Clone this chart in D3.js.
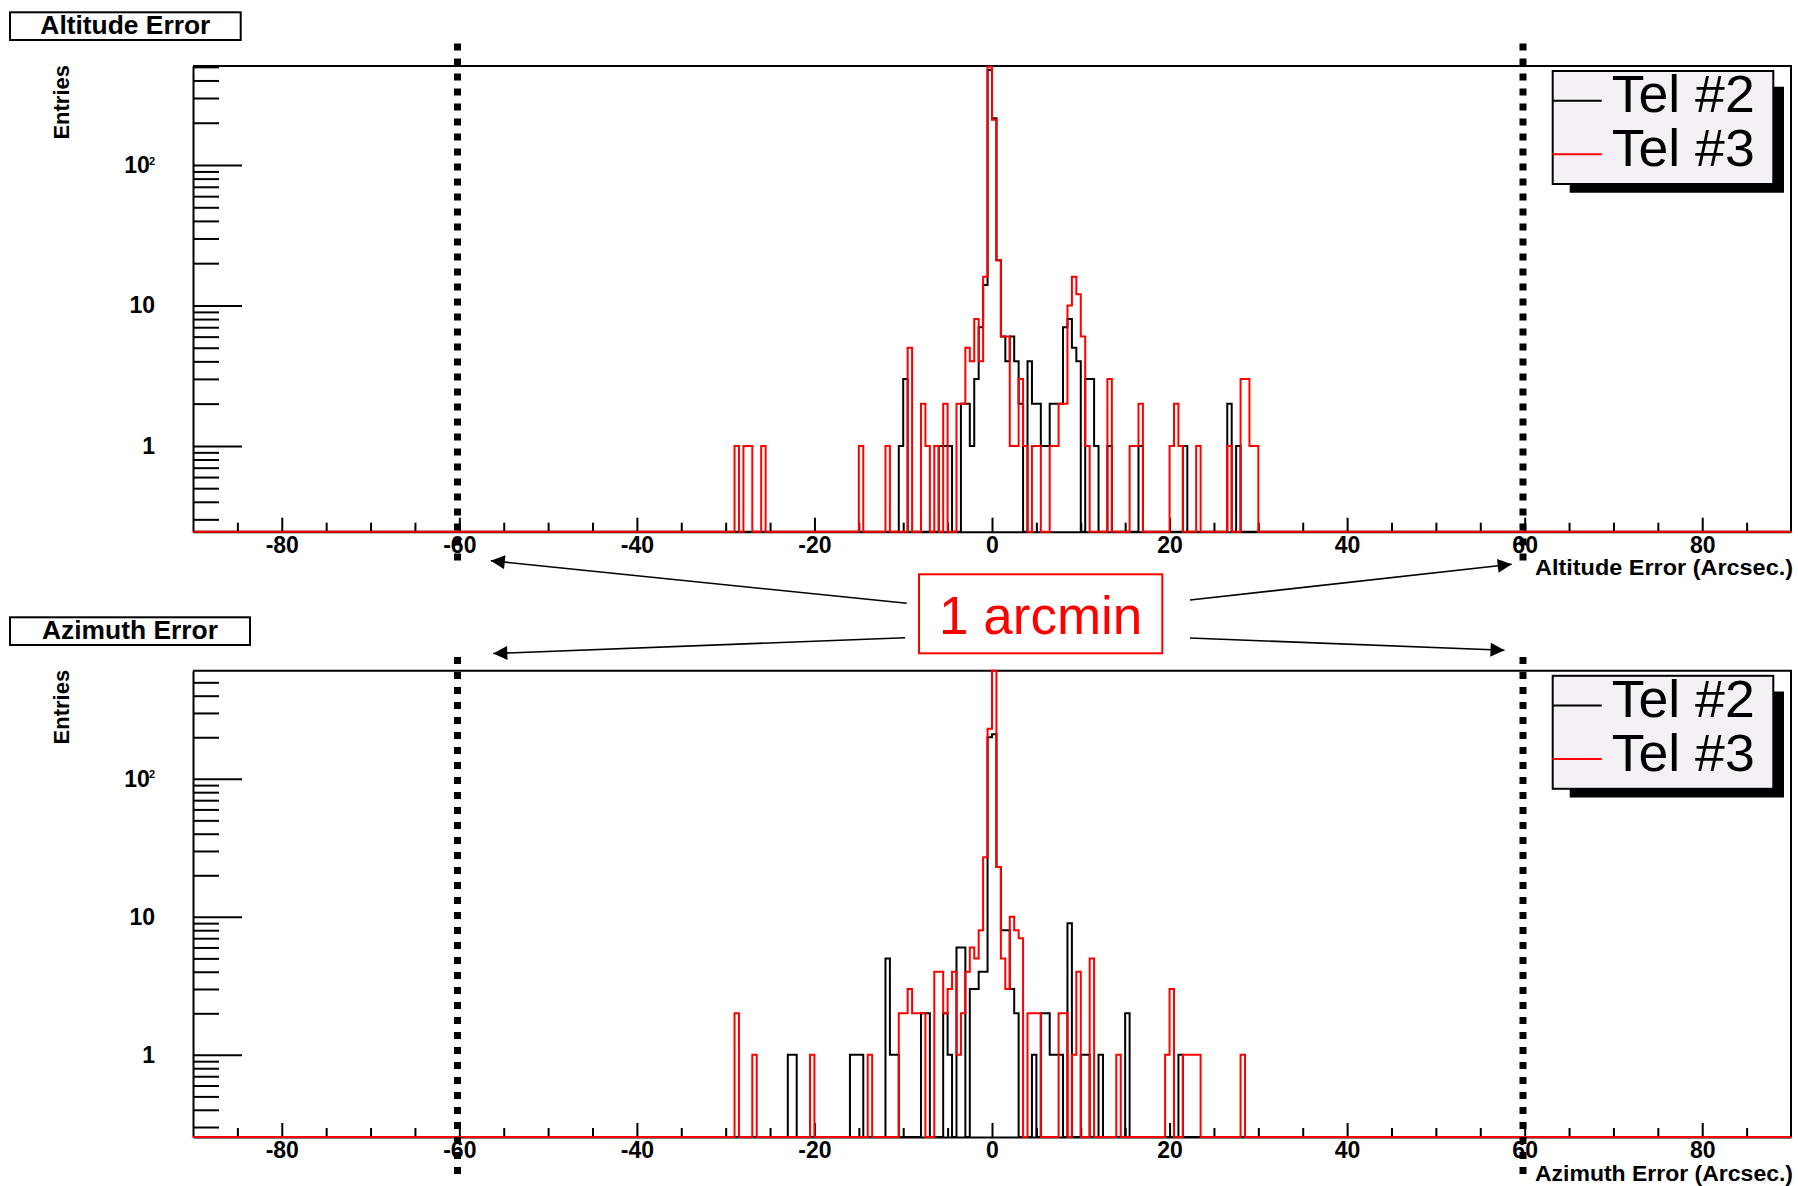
<!DOCTYPE html>
<html><head><meta charset="utf-8">
<script src="https://cdn.jsdelivr.net/npm/d3@7/dist/d3.min.js"></script>
<style>body{margin:0;background:#fff}svg{display:block}</style>
</head><body>
<svg id="c" width="1798" height="1186"></svg>
<script>
// ---------------- data ----------------
const xMajorTicks = [-80, -60, -40, -20, 0, 20, 40, 60, 80];
const xMinorTicks = [-85,-75,-70,-65,-55,-50,-45,-35,-30,-25,-15,-10,-5,5,10,15,25,30,35,45,50,55,65,70,75,85];
const yMajorTicks = [1, 10, 100];
const yMinorTicks = [0.3,0.4,0.5,0.6,0.7,0.8,0.9,2,3,4,5,6,7,8,9,20,30,40,50,60,70,80,90,200,300,400,500];
const panelTitles = ["Altitude Error", "Azimuth Error"];
const xAxisTitles = ["Altitude Error (Arcsec.)", "Azimuth Error (Arcsec.)"];
const seriesNames = ["Tel #2", "Tel #3"];
const binWidth = 0.5;           // arcsec per bin, range -90 .. 90
const xLimits = [-90, 90];
const arcminLines = [-60, 60];

// [bin low edge, entries]  (bins not listed are empty)
const altTel2 = [[-10.5,1],[-10,3],[-6,1],[-5.5,1],[-5,1],[-3.5,2],[-3,2],[-2.5,1],[-2,3],[-1.5,7],[-1,14],
  [-0.5,475],[0,215],[0.5,21],[1,6],[1.5,4],[2,6],[2.5,4],[3,2],[4,4],[4.5,2],[5,2],[5.5,1],[6,1],[6.5,2],[7,2],[7.5,2],
  [8,7],[8.5,8],[9,5],[9.5,4],[10.5,3],[11,3],[11.5,1],[13,1],[16.5,1],[21.5,1],[26.5,2],[27.5,1]];
const altTel3 = [[-29,1],[-28,1],[-27.5,1],[-26,1],[-15,1],[-12,1],[-9.5,5],[-8,2],[-7.5,1],[-6.5,1],[-5.5,2],
  [-4,2],[-3.5,2],[-3,5],[-2.5,4],[-2,8],[-1.5,4],[-1,16],[-0.5,500],[0,210],[0.5,21],[1,6],[1.5,6],[2,1],[2.5,1],
  [3,3],[3.5,1],[4.5,1],[5,1],[6.5,1],[7,1],[7.5,2],[8,2],[8.5,10],[9,16],[9.5,12],[10,6],[10.5,1],[13,3],
  [15.5,1],[16,1],[16.5,2],[20,1],[20.5,2],[21,1],[23,1],[26.5,1],[28,3],[28.5,3],[29,1],[29.5,1]];
const azTel2 = [[-23,1],[-22.5,1],[-16,1],[-15.5,1],[-15,1],[-12,5],[-11.5,1],[-11,1],[-8,2],[-7.5,2],[-5.5,2],[-5,1],
  [-4,6],[-3.5,6],[-2.5,3],[-2,3],[-1.5,4],[-1,4],[-0.5,200],[0,210],[0.5,23],[1,8],[1.5,8],[2,3],[2.5,2],[4.5,1],
  [5.5,2],[6,2],[6.5,1],[7,1],[7.5,1],[8.5,9],[10,1],[10.5,1],[12,1],[15,2],[21,1]];
const azTel3 = [[-29,2],[-27,1],[-20.5,1],[-14,1],[-10.5,2],[-10,2],[-9.5,3],[-9,2],[-8.5,2],[-8,2],[-6.5,4],[-6,4],
  [-5.5,2],[-5,3],[-4.5,4],[-4,1],[-3.5,2],[-3,4],[-2.5,6],[-2,5],[-1.5,8],[-1,27],[-0.5,230],[0,700],[0.5,23],
  [1,5],[1.5,3],[2,10],[2.5,8],[3,7],[4,2],[4.5,2],[5,2],[7.5,2],[8,2],[9,1],[9.5,4],[11,5],[14,1],[19.5,1],
  [20,3],[21.5,1],[22,1],[22.5,1],[23,1],[28,1]];

// ---------------- layout ----------------
const X0 = 193, X1 = 1791;
const panels = [
  {id:0, top:66, bottom:531.7, yDom:[0.245, 507], series:[altTel2, altTel3]},
  {id:1, top:670.8, bottom:1137, yDom:[0.254, 606], series:[azTel2, azTel3]}
];
const colors = ["#000000", "#ff0000"];
const FONT = "'Liberation Sans', Arial, sans-serif";

const svg = d3.select("#c");
const defs = svg.append("defs");
defs.append("marker").attr("id","ah").attr("viewBox","0 0 10 10").attr("refX",10).attr("refY",5)
  .attr("markerWidth",17).attr("markerHeight",14).attr("markerUnits","userSpaceOnUse").attr("orient","auto")
  .append("path").attr("d","M0,0L10,5L0,10Z").attr("fill","#000");

const nBins = Math.round((xLimits[1]-xLimits[0])/binWidth);
function fill(pairs){
  const a = new Array(nBins).fill(0);
  pairs.forEach(([e,c]) => { a[Math.round((e - xLimits[0])/binWidth)] = c; });
  return a;
}

panels.forEach((p, pi) => {
  const x = d3.scaleLinear().domain(xLimits).range([X0, X1]);
  const y = d3.scaleLog().domain(p.yDom).range([p.bottom, p.top]).clamp(true);
  const g = svg.append("g");

  defs.append("clipPath").attr("id","clip"+pi).append("rect")
    .attr("x", X0).attr("y", p.top-2).attr("width", X1-X0).attr("height", p.bottom-p.top+4);

  // frame (top + right)
  g.append("path").attr("d", `M${X0},${p.top}H${X1}V${p.bottom}`)
    .attr("fill","none").attr("stroke","#000").attr("stroke-width",2);

  // y axis
  const ya = g.append("g").attr("transform", `translate(${X0},0)`)
    .call(d3.axisLeft(y).tickValues(yMajorTicks).tickSizeInner(-49).tickSizeOuter(0).tickPadding(38)
      .tickFormat(d => d === 100 ? "10" : String(d)));
  ya.selectAll("text").filter(d => d === 100).append("tspan").attr("dy","-0.75em").attr("dx","-1")
    .attr("font-size","11px").text("2");
  g.append("g").attr("transform", `translate(${X0},0)`)
    .call(d3.axisLeft(y).tickValues(yMinorTicks.filter(v => v >= p.yDom[0] && v <= p.yDom[1]))
      .tickSizeInner(-26).tickSizeOuter(0).tickFormat(""))
    .select(".domain").remove();

  // x axis
  g.append("g").attr("transform", `translate(0,${p.bottom})`)
    .call(d3.axisBottom(x).tickValues(xMajorTicks).tickSizeInner(-14).tickSizeOuter(0).tickPadding(5)
      .tickFormat(d => String(d)));
  g.append("g").attr("transform", `translate(0,${p.bottom})`)
    .call(d3.axisBottom(x).tickValues(xMinorTicks).tickSizeInner(-9).tickSizeOuter(0).tickFormat(""))
    .select(".domain").remove();

  g.selectAll(".tick line, .domain").attr("stroke","#000").attr("stroke-width",2);
  g.selectAll(".tick text").attr("font-family",FONT).attr("font-weight","bold").attr("font-size",23).attr("fill","#000");

  // histograms
  const line = d3.line().x(d => x(d[0])).y(d => d[1] > 0 ? y(d[1]) : p.bottom).curve(d3.curveStepAfter);
  p.series.forEach((s, si) => {
    const a = fill(s);
    const pts = a.map((c,i) => [xLimits[0] + i*binWidth, c]);
    pts.push([xLimits[1], a[nBins-1]]);
    g.append("path").attr("d", line(pts)).attr("fill","none").attr("stroke", colors[si])
      .attr("stroke-width",2).attr("clip-path", `url(#clip${pi})`);
  });

  // title box
  const off = pi === 0 ? 0 : 605;
  const tw = pi === 0 ? 230.7 : 240;
  g.append("rect").attr("x",10).attr("y",12.3+off).attr("width",tw).attr("height",27.7)
    .attr("fill","#fff").attr("stroke","#000").attr("stroke-width",2);
  g.append("text").attr("x",10+tw/2).attr("y",33.5+off).attr("text-anchor","middle")
    .attr("font-family",FONT).attr("font-weight","bold").attr("font-size",25)
    .attr("textLength", pi === 0 ? 170 : 176).attr("lengthAdjust","spacingAndGlyphs")
    .text(panelTitles[pi]);

  // y title
  g.append("text").attr("transform",`translate(69,${p.top-1}) rotate(-90)`).attr("text-anchor","end")
    .attr("font-family",FONT).attr("font-weight","bold").attr("font-size",22).text("Entries");

  // x title
  g.append("text").attr("x",1793).attr("y",p.bottom+43.5).attr("text-anchor","end")
    .attr("font-family",FONT).attr("font-weight","bold").attr("font-size",22)
    .attr("textLength",258).attr("lengthAdjust","spacingAndGlyphs").text(xAxisTitles[pi]);

  // legend
  const lx = 1552.7, lw = 220.6, ly = p.top + 5, lh = 113;
  g.append("path").attr("d",`M${lx+17},${ly+lh}V${ly+lh+8.7}H${lx+lw+10.7}V${ly+15.7}H${lx+lw}V${ly+lh}Z`).attr("fill","#000");
  g.append("rect").attr("x",lx).attr("y",ly).attr("width",lw).attr("height",lh)
    .attr("fill","#f5f0f5").attr("stroke","#000").attr("stroke-width",2);
  seriesNames.forEach((nm, si) => {
    const cy = ly + 29.7 + si*53.6;
    g.append("line").attr("x1",lx).attr("x2",lx+49).attr("y1",cy).attr("y2",cy)
      .attr("stroke",colors[si]).attr("stroke-width",2);
    g.append("text").attr("x",lx+59).attr("y",cy+11.5).attr("font-family",FONT).attr("font-size",51)
      .attr("textLength",143).attr("lengthAdjust","spacingAndGlyphs")
      .attr("fill","#000").text(nm);
  });

  // 1 arcmin dotted markers
  const dy0 = pi === 0 ? 43.6 : 657, dy1 = pi === 0 ? 566 : 1180;
  const xs = [457.5, 1523];
  arcminLines.forEach((v, k) => {
    g.append("line").attr("x1",xs[k]).attr("x2",xs[k]).attr("y1",dy0).attr("y2",dy1)
      .attr("stroke","#000").attr("stroke-width",7).attr("stroke-dasharray","7,8");
  });
});

// annotation
const ann = svg.append("g");
const arrows = [
  [906.7,603.3,490.8,560.7],
  [905,637.7,493.3,653.5],
  [1190,600,1511.7,564.3],
  [1190,638,1504.5,650.2]
];
arrows.forEach(a => ann.append("line").attr("x1",a[0]).attr("y1",a[1]).attr("x2",a[2]).attr("y2",a[3])
  .attr("stroke","#000").attr("stroke-width",1.6).attr("marker-end","url(#ah)"));
ann.append("rect").attr("x",919).attr("y",574.3).attr("width",243.3).attr("height",79)
  .attr("fill","#fff").attr("stroke","#ff0000").attr("stroke-width",2);
ann.append("text").attr("x",1040.7).attr("y",634).attr("text-anchor","middle")
  .attr("font-family",FONT).attr("font-size",53).attr("fill","#ff0000").text("1 arcmin");
</script>
</body></html>
